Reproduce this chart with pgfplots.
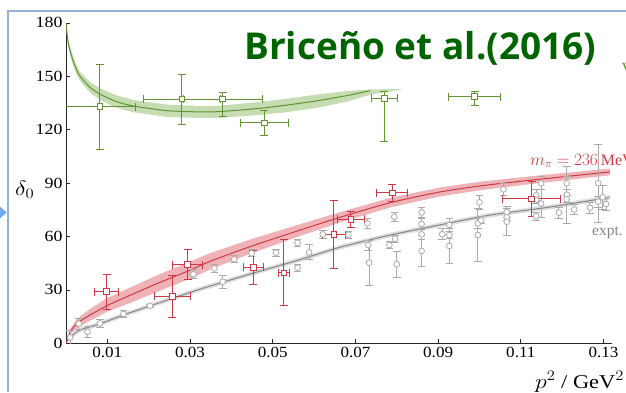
\documentclass[border=0pt]{standalone}
\usepackage{fontspec}
\setmainfont{Liberation Serif}
\newfontfamily\titlefont{Open Sans}
\usepackage{graphicx}
\usepackage{pgfplots}
\usepackage{pgfplotstable}
\pgfplotsset{compat=1.18}

\definecolor{frameblue}{RGB}{150,178,216}
\definecolor{arrowblue}{RGB}{110,170,235}
\definecolor{titlegreen}{RGB}{0,100,0}
\definecolor{lgreen}{RGB}{98,148,48}
\definecolor{lgreenband}{RGB}{198,220,178}
\definecolor{lred}{RGB}{204,58,70}
\definecolor{lredband}{RGB}{238,178,183}
\definecolor{egrey}{RGB}{170,170,170}
\definecolor{egreyline}{RGB}{132,132,132}
\definecolor{egreyband}{RGB}{222,222,222}

% experimental phase shifts: p^2, delta_0, error
\pgfplotstableread{
x y ey
0.0010 3.3 4
0.0031 11.0 3
0.0052 6.5 3
0.0082 11.2 2.5
0.0139 16.5 2
0.0203 21.1 1
0.0308 38.8 2.6
0.0359 42.1 2.2
0.0379 34.6 3.5
0.0407 47.2 2
0.0449 50.6 2
0.0508 50.9 2
0.0560 56.5 2
0.0560 42.5 2
0.0588 51.1 4.2
0.0621 61.2 2
0.0683 61.0 2
0.0729 67.4 3
0.0731 55.2 2.8
0.0733 45.3 12.5
0.0782 55.2 2
0.0794 71.1 2.5
0.0796 58.7 2
0.0800 44.4 7.5
0.0860 73.5 3
0.0860 67.0 3
0.0860 61.2 3
0.0860 51.9 8.5
0.0910 61.3 3
0.0927 66.5 3.5
0.0927 60.8 2
0.0927 54.7 10
0.1000 79.2 4
0.0996 67.4 3
0.1004 69.1 2
0.0996 60.8 15
0.1058 86.5 3.5
0.1066 73.7 3
0.1066 70.8 2
0.1066 68.3 7.5
0.1137 83.3 3
0.1137 80.5 2
0.1137 71.3 2
0.1149 89.9 3.7
0.1149 78.5 8
0.1192 73.4 3
0.1211 89.9 3.7
0.1211 83.5 16
0.1211 80.9 2
0.1229 75.2 3
0.1267 76.2 3
0.1287 89.9 22
0.1287 79.6 3
0.1298 82.0 6.5
0.1306 78.3 3.5
}\exptdata

% m_pi = 236 MeV lattice levels
\pgfplotstableread{
x y ex ey
0.0098 29.0 0.0029 9.8
0.0257 26.4 0.0043 12
0.0294 44.2 0.0036 8.4
0.0453 42.6 0.0024 9.3
0.0527 39.6 0.0013 18.5
0.0648 61.0 0.0028 19.2
0.0689 69.7 0.0033 4.4
0.0789 84.5 0.0037 5
0.1126 81.1 0.0070 9.8
}\reddata

% m_pi = 391 MeV lattice levels
\pgfplotstableread{
x y exm exp eym eyp
0.0082 132.9 0.0085 0.0085 24 24
0.0280 137.2 0.0093 0.0093 14 14
0.0379 137.2 0.0096 0.0096 10 4
0.0480 123.9 0.0059 0.0059 7 7
0.0770 137.6 0.0032 0.0032 24 3.7
0.0988 138.6 0.0063 0.0063 4.7 2.8
}\greendata

% central curves of the parametrisations
\pgfplotstableread{
x y
0      0
0.001  3.5
0.0034 7.5
0.0082 10.9
0.0139 15.9
0.0203 21.0
0.0257 25.2
0.0324 30.4
0.0445 38.9
0.0566 47.0
0.0663 54.0
0.0784 60.8
0.0904 66.5
0.1025 72.0
0.1163 76.3
0.1316 82.0
}\greycurve

\pgfplotstableread{
x y
0      0
0.001  6.5
0.0026 11.0
0.005  14.8
0.0098 21.0
0.015  26.5
0.0227 34.2
0.0294 40.5
0.0348 46.0
0.0445 54.3
0.0566 63.6
0.0663 70.8
0.0784 79.0
0.0904 85.0
0.1001 88.4
0.1122 91.6
0.1316 96.3
}\redcurve

\pgfplotstableread{
x y
0      180
0.0002 175
0.0006 168
0.0014 161
0.0024 154.5
0.0034 150
0.0058 143.8
0.0082 140
0.0123 135.7
0.0163 133.3
0.0244 130.7
0.0324 130
0.0372 130.2
0.0469 132
0.0540 134
0.0614 136.5
0.0680 139.2
0.0735 141.9
}\greencurve

% error bands as closed outlines (upper edge out, lower edge back)
\pgfplotstableread{
x y
0      0
0.001  4.8
0.0034 8.8
0.0082 12.2
0.0139 17.2
0.0203 22.3
0.0257 26.5
0.0324 31.7
0.0445 40.2
0.0566 48.3
0.0663 55.3
0.0784 62.1
0.0904 67.8
0.1025 73.3
0.1163 77.6
0.1316 83.3
0.1316 80.7
0.1163 75.0
0.1025 70.7
0.0904 65.2
0.0784 59.5
0.0663 52.7
0.0566 45.7
0.0445 37.6
0.0324 29.1
0.0257 23.9
0.0203 19.7
0.0139 14.6
0.0082 9.6
0.0034 6.2
0.001  2.2
0      0
}\greyband

\pgfplotstableread{
x y
0      0
0.001  8.0
0.0026 13.5
0.005  18.0
0.0098 25.2
0.015  30.8
0.0227 38.9
0.0294 45.3
0.0348 50.6
0.0445 58.3
0.0566 66.9
0.0663 73.7
0.0784 81.7
0.0904 87.5
0.1001 90.8
0.1122 93.8
0.1316 98.2
0.1316 94.4
0.1122 89.4
0.1001 86.0
0.0904 82.5
0.0784 76.3
0.0663 67.9
0.0566 60.3
0.0445 50.3
0.0348 41.4
0.0294 35.7
0.0227 29.5
0.015  22.2
0.0098 17.6
0.005  11.6
0.0026 8.5
0.001  5.0
0      0
}\redband

\pgfplotstableread{
x y
0      180
0.0002 176
0.0006 170
0.0014 163.5
0.0024 157
0.0034 152.5
0.0058 146.8
0.0082 143.3
0.0123 139.2
0.0163 136.7
0.0244 134.1
0.0324 133.3
0.0372 133.5
0.0469 135.6
0.0540 137.6
0.0614 140
0.0680 141.7
0.0735 142.6
0.0780 142.8
0.0810 142.8
0.0810 142.4
0.0780 141.3
0.0735 139.6
0.0680 135.8
0.0614 132.6
0.0540 130
0.0469 128.3
0.0372 126.7
0.0324 126.6
0.0244 127.2
0.0163 129.8
0.0123 132.2
0.0082 136.7
0.0058 140.8
0.0034 147.5
0.0024 152
0.0014 158.5
0.0006 166
0.0002 174
0      180
}\greenband

\begin{document}
\begin{tikzpicture}[x=1pt,y=1pt]
\useasboundingbox (0,0) rectangle (626,392);
\clip (0,0) rectangle (626,392);

% slide frame
\draw[frameblue, line width=1.5pt] (8,0) -- (8,381) -- (627,381);
\fill[arrowblue] (0,185.3) -- (6.7,179.5) -- (0,173.7) -- cycle;

\begin{axis}[
  at={(66pt,48.7pt)}, anchor=south west,
  scale only axis, width=545.8pt, height=320.4pt,
  xmin=0, xmax=0.132, ymin=0, ymax=180,
  axis lines*=left,
  axis line style={black!85, line width=0.9pt},
  tick align=inside, major tick length=4pt,
  tick style={black!85, line width=0.8pt},
  xtick={0.01,0.03,0.05,0.07,0.09,0.11,0.13},
  ytick={0,30,60,90,120,150,180},
  scaled x ticks=false,
  ticklabel style={font=\fontsize{15.5}{15.5}\selectfont},
  xticklabel={\scalebox{1.1}[1]{\pgfmathprintnumber[fixed,fixed zerofill,precision=2,assume math mode=true]{\tick}}},
  yticklabel={\scalebox{1.15}[1]{\pgfmathprintnumber[fixed,precision=0,assume math mode=true]{\tick}}},
  error bars/error mark=-,
]

% bands
\addplot[fill=egreyband, draw=none, forget plot] table[x=x,y=y]{\greyband} -- cycle;
\addplot[fill=lredband, draw=none, forget plot] table[x=x,y=y]{\redband} -- cycle;
\addplot[fill=lgreenband, draw=none, forget plot] table[x=x,y=y]{\greenband} -- cycle;

% central curves
\addplot[egreyline, line width=1pt, smooth, tension=0.4] table[x=x,y=y]{\greycurve};
\addplot[lred, line width=1pt, smooth, tension=0.4] table[x=x,y=y]{\redcurve};
\addplot[lgreen, line width=1pt, smooth, tension=0.4] table[x=x,y=y]{\greencurve};

% experiment
\addplot[egrey, only marks, mark=*, mark size=2.9pt, line width=0.8pt,
  mark options={draw=egrey, fill=white},
  error bars/.cd, y dir=both, y explicit,
  error bar style={draw=egrey, line width=0.8pt},
  error mark options={rotate=90, draw=egrey, mark size=3.8pt, line width=0.8pt}]
  table[x=x, y=y, y error=ey]{\exptdata};

% m_pi = 236 MeV
\addplot[lred, only marks, mark=square*, mark size=2.8pt, line width=0.9pt,
  mark options={draw=lred, fill=white},
  error bars/.cd, x dir=both, x explicit, y dir=both, y explicit,
  error bar style={draw=lred, line width=0.9pt},
  error mark options={rotate=90, draw=lred, mark size=4pt, line width=0.9pt}]
  table[x=x, y=y, x error=ex, y error=ey]{\reddata};

% m_pi = 391 MeV
\addplot[lgreen, only marks, mark=square*, mark size=2.8pt, line width=0.9pt,
  mark options={draw=lgreen, fill=white},
  error bars/.cd, x dir=both, x explicit, y dir=both, y explicit,
  error bar style={draw=lgreen, line width=0.9pt},
  error mark options={rotate=90, draw=lgreen, mark size=4pt, line width=0.9pt}]
  table[x=x, y=y, x error plus=exp, x error minus=exm,
        y error plus=eyp, y error minus=eym]{\greendata};
\end{axis}

\node[anchor=base west, inner sep=0, text=titlegreen,
  font=\titlefont\bfseries\fontsize{37}{40}\selectfont] at (244,332.7) {Briceño et al.(2016)};
\node[anchor=base west, inner sep=0] at (15,197)
  {\scalebox{1.15}[1]{\fontsize{19.5}{20}\selectfont$\delta_0$}};
\node[anchor=base west, inner sep=0] at (535,4)
  {\scalebox{1.15}[1]{\fontsize{19.5}{20}\selectfont$p^2$ / GeV$^2$}};
\node[anchor=base west, inner sep=0, text=lred] at (530,227)
  {\fontsize{16}{17}\selectfont$m_\pi = 236\,$MeV};
\node[anchor=base west, inner sep=0, text=egreyline] at (592,156.3)
  {\fontsize{15.5}{16.5}\selectfont expt.};
\node[anchor=base west, inner sep=0, text=lgreen] at (621.5,319)
  {\fontsize{15.5}{16}\selectfont V};
\end{tikzpicture}
\end{document}
